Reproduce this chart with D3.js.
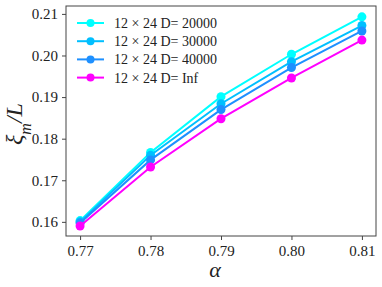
<!DOCTYPE html>
<html>
<head>
<meta charset="utf-8">
<script src="https://cdn.jsdelivr.net/npm/d3@7"></script>
<style>
  body { margin: 0; background: #fff; }
  text { font-family: "Liberation Serif", "DejaVu Serif", serif; fill: #222; }
</style>
</head>
<body>
<div id="chart"></div>
<script>
// chart values
var alphas = [0.77, 0.78, 0.79, 0.80, 0.81];
var seriesNames = ["12 \u00d7 24 D= 20000", "12 \u00d7 24 D= 30000", "12 \u00d7 24 D= 40000", "12 \u00d7 24 D= Inf"];
var seriesColors = ["#00ffff", "#00bfff", "#1e90ff", "#ff00ff"];
var d20000 = [0.1603, 0.1767, 0.1901, 0.2003, 0.2093];
var d30000 = [0.1600, 0.1760, 0.1884, 0.1985, 0.2072];
var d40000 = [0.1597, 0.1749, 0.1870, 0.1971, 0.2059];
var dInf   = [0.1590, 0.1732, 0.1848, 0.1946, 0.2037];
var xTicks = [0.77, 0.78, 0.79, 0.80, 0.81];
var yTicks = [0.16, 0.17, 0.18, 0.19, 0.20, 0.21];

var allSeries = [d20000, d30000, d40000, dInf];

var margin = { top: 6, right: 6, bottom: 51, left: 66 };
var W = 382, H = 287;
var width = W - margin.left - margin.right;
var height = H - margin.top - margin.bottom;

var svg = d3.select("#chart").append("svg")
    .attr("width", W)
    .attr("height", H)
    .append("g")
    .attr("transform", "translate(" + margin.left + "," + margin.top + ")");

var x = d3.scaleLinear().domain([0.768, 0.812]).range([0, width]);
var y = d3.scaleLinear().domain([0.1566, 0.2119]).range([height, 0]);

var xAxis = d3.axisBottom(x).tickValues(xTicks).tickFormat(d3.format(".2f")).tickSize(4).tickPadding(5);
var yAxis = d3.axisLeft(y).tickValues(yTicks).tickFormat(d3.format(".2f")).tickSize(4).tickPadding(4);

var gx = svg.append("g")
    .attr("class", "x-axis axis")
    .attr("transform", "translate(0," + height + ")")
    .call(xAxis);
var gy = svg.append("g")
    .attr("class", "y-axis axis")
    .call(yAxis);

[gx, gy].forEach(function(g) {
    g.select(".domain").remove();
    g.selectAll(".tick line").attr("stroke", "#444");
    g.selectAll(".tick text").style("font-size", "15px").attr("fill", "#222");
});

// frame
svg.append("rect")
    .attr("width", width)
    .attr("height", height)
    .attr("fill", "none")
    .attr("stroke", "#444")
    .attr("stroke-width", 1);

var line = d3.line()
    .x(function(d, i) { return x(alphas[i]); })
    .y(function(d) { return y(d); });

allSeries.forEach(function(s, k) {
    svg.append("path")
        .datum(s)
        .attr("d", line)
        .attr("fill", "none")
        .attr("stroke", seriesColors[k])
        .attr("stroke-width", 2);

    svg.selectAll(".pt" + k)
        .data(s)
        .enter().append("circle")
        .attr("class", "pt" + k)
        .attr("cx", function(d, i) { return x(alphas[i]); })
        .attr("cy", function(d) { return y(d); })
        .attr("r", 4.5)
        .attr("fill", seriesColors[k]);
});

// legend
var legend = svg.append("g").attr("transform", "translate(11,17)");
seriesNames.forEach(function(name, k) {
    var row = legend.append("g").attr("transform", "translate(0," + (k * 18.2) + ")");
    row.append("line")
        .attr("x1", 0).attr("x2", 27)
        .attr("stroke", seriesColors[k])
        .attr("stroke-width", 2);
    row.append("circle")
        .attr("cx", 13.5).attr("r", 4)
        .attr("fill", seriesColors[k]);
    row.append("text")
        .attr("x", 37)
        .attr("dy", "0.35em")
        .style("font-size", "14px")
        .text(name);
});

// axis labels
svg.append("text")
    .attr("x", width / 2 - 6)
    .attr("y", height + 41)
    .attr("text-anchor", "middle")
    .style("font-size", "22px")
    .style("font-style", "italic")
    .text("\u03b1");

var yl = svg.append("text")
    .attr("transform", "translate(-44," + (height / 2 + 3) + ") rotate(-90)")
    .attr("text-anchor", "middle")
    .style("font-size", "24px")
    .style("font-style", "italic");
yl.append("tspan").text("\u03be");
yl.append("tspan").attr("baseline-shift", "sub").style("font-size", "16px").text("m");
yl.append("tspan").text("/L");
</script>
</body>
</html>
